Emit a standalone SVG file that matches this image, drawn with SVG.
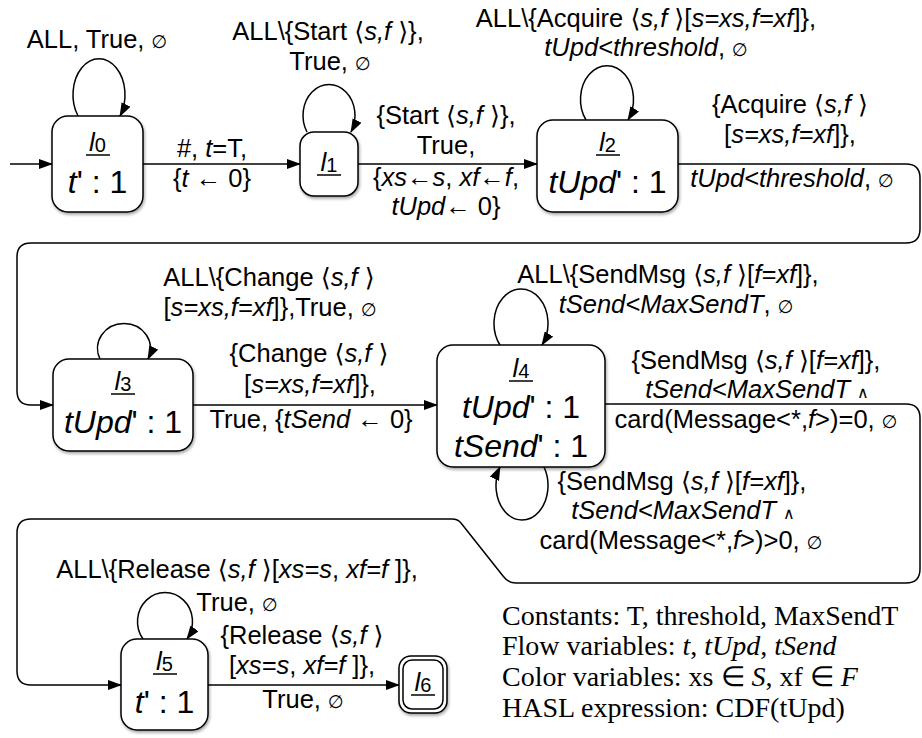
<svg xmlns="http://www.w3.org/2000/svg" width="922" height="738" viewBox="0 0 922 738">
<defs>
<style>
text{font-family:"Liberation Sans",Arial,sans-serif;fill:#000}
.l{font-size:25.5px;text-anchor:middle}
.i{font-style:italic}
.e{font-family:"DejaVu Sans",sans-serif;font-size:18px;font-style:normal}
.w{font-family:"DejaVu Sans",sans-serif;font-size:16px;font-style:normal}
.ab{font-family:"DejaVu Sans",sans-serif;font-style:normal}
.box{fill:#fff;stroke:#000;stroke-width:1.5;filter:url(#sh)}
.nm{font-size:26px;text-anchor:middle}
.sb{font-size:20px;font-style:normal}
.bd{font-size:32px;text-anchor:middle}
.ul{stroke:#000;stroke-width:1.5}
.c{fill:none;stroke:#000;stroke-width:1.5;marker-end:url(#ah)}
.lg{font-family:"Liberation Serif","Times New Roman",serif;font-size:28px}
</style>
<marker id="ah" markerWidth="14" markerHeight="10" refX="13" refY="5" orient="auto" markerUnits="userSpaceOnUse"><path d="M0,0 L14,5 L0,10 z" fill="#000"/></marker>
<filter id="sh" x="-20%" y="-20%" width="140%" height="150%"><feDropShadow dx="1" dy="2" stdDeviation="1.5" flood-color="#000" flood-opacity="0.35"/></filter>
</defs>
<rect width="922" height="738" fill="#fff"/>

<g id="connectors">
  <g id="init"><path class="c" d="M10,164 H52"/></g>
  <g id="loop0">
    <path class="c" d="M78,116 A26,36 0 1 1 120,116"/>
    <text class="l" x="97" y="48">ALL, True, <tspan class="e">∅</tspan></text>
  </g>
  <g id="e01">
    <path class="c" d="M143,164 H300"/>
    <text class="l" x="212" y="157">#, <tspan class="i">t</tspan>=T,</text>
    <text class="l" x="212" y="187">{<tspan class="i">t</tspan> ← 0}</text>
  </g>
  <g id="loop1">
    <path class="c" d="M307,132 A26,31 0 1 1 351,132"/>
    <text class="l" x="328" y="40">ALL\{Start <tspan class="ab">⟨</tspan><tspan class="i">s,f</tspan> <tspan class="ab">⟩</tspan>},</text>
    <text class="l" x="330" y="70">True, <tspan class="e">∅</tspan></text>
  </g>
  <g id="e12">
    <path class="c" d="M358,164 H537"/>
    <text class="l" x="446" y="124">{Start <tspan class="ab">⟨</tspan><tspan class="i">s,f</tspan> <tspan class="ab">⟩</tspan>},</text>
    <text class="l" x="446" y="154">True,</text>
    <text class="l" x="446" y="186">{<tspan class="i">xs</tspan>←<tspan class="i">s</tspan>, <tspan class="i">xf</tspan>←<tspan class="i">f</tspan>,</text>
    <text class="l" x="446" y="215"><tspan class="i">tUpd</tspan>← 0}</text>
  </g>
  <g id="loop2">
    <path class="c" d="M586,120 A26.5,33.7 0 1 1 628,120"/>
    <text class="l" x="646" y="27">ALL\{Acquire <tspan class="ab">⟨</tspan><tspan class="i">s,f</tspan> <tspan class="ab">⟩</tspan>[<tspan class="i">s=xs,f=xf</tspan>]},</text>
    <text class="l" x="646" y="56"><tspan class="i">tUpd&lt;threshold</tspan>, <tspan class="e">∅</tspan></text>
  </g>
  <g id="e23">
    <path class="c" d="M678,164 H906 Q920,164 920,178 V229 Q920,243 906,243 H31 Q17,243 17,257 V391 Q17,405 31,405 H53"/>
    <text class="l" x="790" y="113">{Acquire <tspan class="ab">⟨</tspan><tspan class="i">s,f</tspan> <tspan class="ab">⟩</tspan></text>
    <text class="l" x="790" y="143">[<tspan class="i">s=xs,f=xf</tspan>]},</text>
    <text class="l" x="792" y="187"><tspan class="i">tUpd&lt;threshold</tspan>, <tspan class="e">∅</tspan></text>
  </g>
  <g id="loop3">
    <path class="c" d="M100,359 A26.5,25 0 1 1 148,359"/>
    <text class="l" x="269" y="286">ALL\{Change <tspan class="ab">⟨</tspan><tspan class="i">s,f</tspan> <tspan class="ab">⟩</tspan></text>
    <text class="l" x="270" y="316">[<tspan class="i">s=xs,f=xf</tspan>]},True, <tspan class="e">∅</tspan></text>
  </g>
  <g id="e34">
    <path class="c" d="M193,405 H437"/>
    <text class="l" x="309" y="362">{Change <tspan class="ab">⟨</tspan><tspan class="i">s,f</tspan> <tspan class="ab">⟩</tspan></text>
    <text class="l" x="310" y="393">[<tspan class="i">s=xs,f=xf</tspan>]},</text>
    <text class="l" x="311" y="428">True, {<tspan class="i">tSend</tspan> ← 0}</text>
  </g>
  <g id="loop4a">
    <path class="c" d="M500,345 A27,34.4 0 1 1 542,345"/>
    <text class="l" x="668" y="283">ALL\{SendMsg <tspan class="ab">⟨</tspan><tspan class="i">s,f</tspan> <tspan class="ab">⟩</tspan>[<tspan class="i">f=xf</tspan>]},</text>
    <text class="l" x="676" y="313"><tspan class="i">tSend&lt;MaxSendT</tspan>, <tspan class="e">∅</tspan></text>
  </g>
  <g id="loop4b">
    <path class="c" d="M544,467 A26,34.6 0 1 1 500,467"/>
    <text class="l" x="682" y="490">{SendMsg <tspan class="ab">⟨</tspan><tspan class="i">s,f</tspan> <tspan class="ab">⟩</tspan>[<tspan class="i">f=xf</tspan>]},</text>
    <text class="l" x="683" y="519"><tspan class="i">tSend&lt;MaxSendT</tspan> <tspan class="w">∧</tspan></text>
    <text class="l" x="681" y="549">card(Message&lt;*,<tspan class="i">f</tspan>&gt;)&gt;0, <tspan class="e">∅</tspan></text>
  </g>
  <g id="e45">
    <path class="c" d="M605,404 H906 Q920,404 920,418 V569 Q920,583 906,583 H516 Q508,583 503,576 L461,523 Q458,519 452,519 H31 Q17,519 17,533 V671 Q17,685 31,685 H121"/>
    <text class="l" x="756" y="369">{SendMsg <tspan class="ab">⟨</tspan><tspan class="i">s,f</tspan> <tspan class="ab">⟩</tspan>[<tspan class="i">f=xf</tspan>]},</text>
    <text class="l" x="757" y="398"><tspan class="i">tSend&lt;MaxSendT</tspan> <tspan class="w">∧</tspan></text>
    <text class="l" x="756" y="428">card(Message&lt;*,<tspan class="i">f</tspan>&gt;)=0, <tspan class="e">∅</tspan></text>
  </g>
  <g id="loop5">
    <path class="c" d="M143,639 A27.5,29 0 1 1 187,639"/>
    <text class="l" x="237" y="578">ALL\{Release <tspan class="ab">⟨</tspan><tspan class="i">s,f</tspan> <tspan class="ab">⟩</tspan>[<tspan class="i">xs=s</tspan>, <tspan class="i">xf=f</tspan> ]},</text>
    <text class="l" x="237" y="611">True, <tspan class="e">∅</tspan></text>
  </g>
  <g id="e56">
    <path class="c" d="M208,685 H399"/>
    <text class="l" x="302" y="644">{Release <tspan class="ab">⟨</tspan><tspan class="i">s,f</tspan> <tspan class="ab">⟩</tspan></text>
    <text class="l" x="302" y="674">[<tspan class="i">xs=s</tspan>, <tspan class="i">xf=f</tspan> ]},</text>
    <text class="l" x="303" y="708">True, <tspan class="e">∅</tspan></text>
  </g>
</g>

<g id="l0">
  <rect class="box" x="52" y="116" width="91" height="96" rx="16"/>
  <text class="nm" x="97.5" y="151"><tspan class="i">l</tspan><tspan class="sb" dy="1">0</tspan></text>
  <line class="ul" x1="86" y1="155" x2="110" y2="155"/>
  <text class="bd" x="97.5" y="193"><tspan class="i">t</tspan>' : 1</text>
</g>
<g id="l1">
  <rect class="box" x="300" y="132" width="58" height="64" rx="14"/>
  <text class="nm" x="329" y="171"><tspan class="i">l</tspan><tspan class="sb" dy="1">1</tspan></text>
  <line class="ul" x1="317" y1="175" x2="341" y2="175"/>
</g>
<g id="l2">
  <rect class="box" x="537" y="120" width="141" height="92" rx="16"/>
  <text class="nm" x="607.5" y="151"><tspan class="i">l</tspan><tspan class="sb" dy="1">2</tspan></text>
  <line class="ul" x1="596" y1="155" x2="620" y2="155"/>
  <text class="bd" x="607.5" y="193"><tspan class="i">tUpd</tspan>' : 1</text>
</g>
<g id="l3">
  <rect class="box" x="53" y="359" width="140" height="92" rx="16"/>
  <text class="nm" x="123" y="390"><tspan class="i">l</tspan><tspan class="sb" dy="1">3</tspan></text>
  <line class="ul" x1="111" y1="394" x2="135" y2="394"/>
  <text class="bd" x="123" y="433"><tspan class="i">tUpd</tspan>' : 1</text>
</g>
<g id="l4">
  <rect class="box" x="437" y="345" width="168" height="122" rx="16"/>
  <text class="nm" x="521" y="377"><tspan class="i">l</tspan><tspan class="sb" dy="1">4</tspan></text>
  <line class="ul" x1="509" y1="381" x2="533" y2="381"/>
  <text class="bd" x="521" y="418"><tspan class="i">tUpd</tspan>' : 1</text>
  <text class="bd" x="521" y="457"><tspan class="i">tSend</tspan>' : 1</text>
</g>
<g id="l5">
  <rect class="box" x="121" y="639" width="87" height="91" rx="16"/>
  <text class="nm" x="164.5" y="670"><tspan class="i">l</tspan><tspan class="sb" dy="1">5</tspan></text>
  <line class="ul" x1="153" y1="674" x2="177" y2="674"/>
  <text class="bd" x="164.5" y="713"><tspan class="i">t</tspan>' : 1</text>
</g>
<g id="l6">
  <rect class="box" x="399" y="656" width="48" height="57" rx="12"/>
  <rect x="403" y="660" width="40" height="49" rx="9" fill="none" stroke="#000" stroke-width="1.5"/>
  <text class="nm" x="423" y="691"><tspan class="i">l</tspan><tspan class="sb" dy="1">6</tspan></text>
  <line class="ul" x1="411" y1="695" x2="435" y2="695"/>
</g>

<g id="legend">
  <text class="lg" x="502" y="625">Constants: T, threshold, MaxSendT</text>
  <text class="lg" x="502" y="655">Flow variables: <tspan class="i">t</tspan>, <tspan class="i">tUpd</tspan>, <tspan class="i">tSend</tspan></text>
  <text class="lg" x="502" y="686">Color variables: xs ∈ <tspan class="i">S</tspan>, xf ∈ <tspan class="i">F</tspan></text>
  <text class="lg" x="502" y="717">HASL expression: CDF(tUpd)</text>
</g>
</svg>
